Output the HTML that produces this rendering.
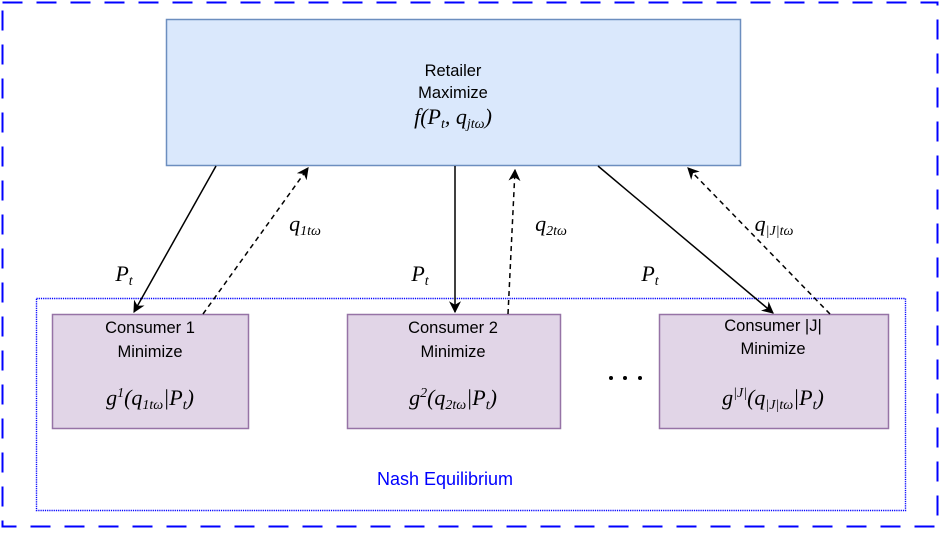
<!DOCTYPE html>
<html><head><meta charset="utf-8"><style>
html,body{margin:0;padding:0;background:#fff}
svg{display:block}
.t{font-family:"Liberation Sans",sans-serif;font-size:16.5px;fill:#000;text-anchor:middle}
.m{font-family:"Liberation Serif",serif;font-style:italic;font-size:22px;fill:#000;text-anchor:middle}
.s{font-size:14px}
</style></head><body>
<svg width="941" height="533" viewBox="0 0 941 533" xmlns="http://www.w3.org/2000/svg">
<defs>
<marker id="a" viewBox="0 0 10 10" refX="9" refY="5" markerWidth="12" markerHeight="12" orient="auto" markerUnits="userSpaceOnUse"><path d="M0,0 L10,5 L0,10 L3,5 z" fill="#000"/></marker>
</defs>
<rect x="2.5" y="2.5" width="935" height="524" fill="none" stroke="#0000ff" stroke-width="2" stroke-dasharray="20,14"/>
<rect x="36.5" y="298.5" width="869" height="212" fill="none" stroke="#0000ff" stroke-width="1.4" stroke-dasharray="1.2,1"/>
<rect x="166.5" y="19.5" width="574" height="146" fill="#dae8fc" stroke="#6c8ebf" stroke-width="1.5"/>
<text class="t" x="453" y="76">Retailer</text>
<text class="t" x="453" y="98">Maximize</text>
<text class="m" x="453" y="124">f(P<tspan class="s" dy="4">t</tspan><tspan dy="-4">, q</tspan><tspan class="s" dy="4">jtω</tspan><tspan dy="-4">)</tspan></text>
<rect x="52.5" y="314.5" width="196" height="114" fill="#e1d5e7" stroke="#9673a6" stroke-width="1.5"/>
<rect x="347.5" y="314.5" width="213" height="114" fill="#e1d5e7" stroke="#9673a6" stroke-width="1.5"/>
<rect x="659.5" y="314.5" width="229" height="114" fill="#e1d5e7" stroke="#9673a6" stroke-width="1.5"/>
<text class="t" x="150" y="333">Consumer 1</text>
<text class="t" x="150" y="357">Minimize</text>
<text class="m" x="150" y="405">g<tspan class="s" dy="-8">1</tspan><tspan dy="8">(q</tspan><tspan class="s" dy="4">1tω</tspan><tspan dy="-4">|P</tspan><tspan class="s" dy="4">t</tspan><tspan dy="-4">)</tspan></text>
<text class="t" x="453" y="333">Consumer 2</text>
<text class="t" x="453" y="357">Minimize</text>
<text class="m" x="453" y="405">g<tspan class="s" dy="-8">2</tspan><tspan dy="8">(q</tspan><tspan class="s" dy="4">2tω</tspan><tspan dy="-4">|P</tspan><tspan class="s" dy="4">t</tspan><tspan dy="-4">)</tspan></text>
<text class="t" x="773" y="331">Consumer |J|</text>
<text class="t" x="773" y="354">Minimize</text>
<text class="m" x="773" y="405">g<tspan class="s" dy="-8">|J|</tspan><tspan dy="8">(q</tspan><tspan class="s" dy="4">|J|tω</tspan><tspan dy="-4">|P</tspan><tspan class="s" dy="4">t</tspan><tspan dy="-4">)</tspan></text>
<g fill="#000"><circle cx="611" cy="378" r="2"/><circle cx="625" cy="378" r="2"/><circle cx="640" cy="378" r="2"/></g>
<text x="445" y="485" style="font-family:'Liberation Sans',sans-serif;font-size:18px;fill:#0000ff;text-anchor:middle">Nash Equilibrium</text>
<g stroke="#000" stroke-width="1.5" fill="none">
<line x1="216" y1="166" x2="134" y2="312" marker-end="url(#a)"/>
<line x1="455" y1="166" x2="455" y2="312" marker-end="url(#a)"/>
<line x1="598" y1="166" x2="773" y2="313" marker-end="url(#a)"/>
<g stroke-dasharray="5,4">
<line x1="203" y1="314" x2="308" y2="168" marker-end="url(#a)"/>
<line x1="508" y1="314" x2="515" y2="170" marker-end="url(#a)"/>
<line x1="830" y1="314" x2="688" y2="168" marker-end="url(#a)"/>
</g>
</g>
<text class="m" x="124" y="281">P<tspan class="s" dy="4">t</tspan></text>
<text class="m" x="420" y="281">P<tspan class="s" dy="4">t</tspan></text>
<text class="m" x="650" y="281">P<tspan class="s" dy="4">t</tspan></text>
<text class="m" x="305" y="231">q<tspan class="s" dy="4">1tω</tspan></text>
<text class="m" x="551" y="231">q<tspan class="s" dy="4">2tω</tspan></text>
<text class="m" x="774" y="231">q<tspan class="s" dy="4">|J|tω</tspan></text>
</svg>
</body></html>
